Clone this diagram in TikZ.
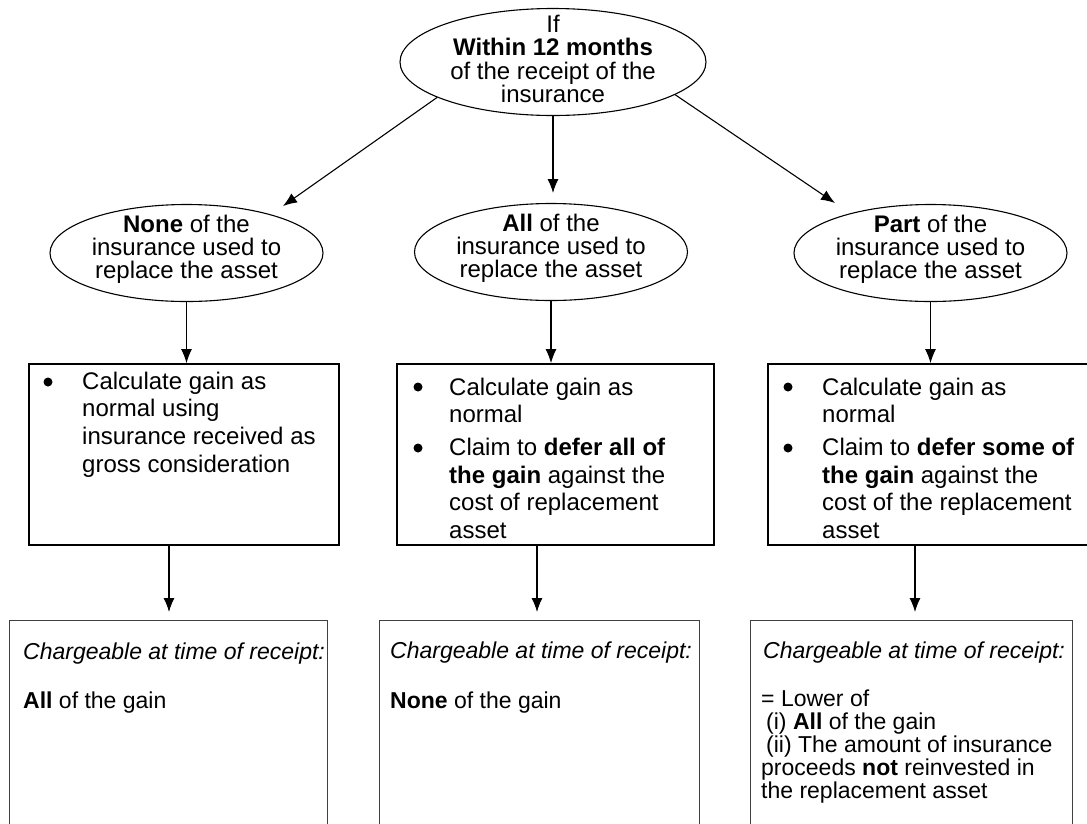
\documentclass[tikz,border=0pt]{standalone}
\usepackage{fontspec}
\setmainfont{Liberation Sans}
\usetikzlibrary{shapes.geometric,arrows.meta}
\begin{document}
\begin{tikzpicture}[x=1pt,y=-1pt,
  ellshape/.style={draw,line width=1.1pt,ellipse,inner sep=0pt},
  etext/.style={anchor=north,inner sep=0pt,align=center,font=\fontsize{24}{23.5}\selectfont},
  boxA/.style={draw,line width=1.8pt,rectangle,inner sep=0pt},
  boxB/.style={draw=black!75,line width=1pt,rectangle,inner sep=0pt},
  arr/.style={line width=1.1pt,-{Latex[length=14pt,width=11pt]}},
  ln/.style={anchor=base west,inner sep=0pt,font=\fontsize{24}{27}\selectfont},
  lnb/.style={anchor=base west,inner sep=0pt,font=\fontsize{23}{23}\selectfont},
  bul/.style={circle,fill,inner sep=0pt,minimum size=9pt},
]
\useasboundingbox (0,0) rectangle (1087,823);

% top ellipse
\node[ellshape,minimum width=306pt,minimum height=107pt] (top) at (553,62) {};
\node[etext] (toptext) at (553,14.5) {If\\\textbf{Within 12 months}\\of the receipt of the\\insurance};

% second row ellipses
\node[ellshape,minimum width=273pt,minimum height=97pt] (none) at (186.5,253) {};
\node[etext,font=\fontsize{24}{23}\selectfont] (nonetext) at (186.5,214.5) {\textbf{None} of the\\insurance used to\\replace the asset};
\node[ellshape,minimum width=273pt,minimum height=97pt] (all) at (551,252) {};
\node[etext,font=\fontsize{24}{23}\selectfont] (alltext) at (551,213.5) {\textbf{All} of the\\insurance used to\\replace the asset};
\node[ellshape,minimum width=273pt,minimum height=97pt] (part) at (930.5,253) {};
\node[etext,font=\fontsize{24}{23}\selectfont] (parttext) at (930.5,214.5) {\textbf{Part} of the\\insurance used to\\replace the asset};

% arrows row 1 -> row 2
\coordinate (e2l) at (283,206);
\coordinate (e2m) at (553,193);
\coordinate (e2r) at (835,203);
\draw[arr] (top.197) -- (e2l);
\draw[arr] (top.south) -- (e2m);
\draw[arr] (top.345) -- (e2r);

% third row boxes
\node[boxA,minimum width=310pt,minimum height=181pt] (b3l) at (184,454.5) {};
\node[boxA,minimum width=317pt,minimum height=181pt] (b3m) at (555.5,454.5) {};
\node[boxA,minimum width=340pt,minimum height=181pt] (b3r) at (938,454.5) {};

% arrows row 2 -> row 3
\draw[arr] (none.south) -- (none.south |- b3l.north);
\draw[arr] (all.south) -- (all.south |- b3m.north);
\draw[arr] (part.south) -- (part.south |- b3r.north);

% left box text
\node[bul] (bl1) at (48,382) {};
\node[ln] (l1) at (82,389) {Calculate gain as};
\node[ln] (l2) at (82,416.7) {normal using};
\node[ln] (l3) at (82,444.4) {insurance received as};
\node[ln] (l4) at (82,472) {gross consideration};

% middle box text
\node[bul] (bm1) at (418,387) {};
\node[ln] (m1) at (449,395) {Calculate gain as};
\node[ln] (m2) at (449,422) {normal};
\node[bul] (bm2) at (418,448) {};
\node[ln] (m3) at (449,455.5) {Claim to \textbf{defer all of}};
\node[ln] (m4) at (449,483) {\textbf{the gain} against the};
\node[ln] (m5) at (449,510.5) {cost of replacement};
\node[ln] (m6) at (449,538) {asset};

% right box text
\node[bul] (br1) at (788,387) {};
\node[ln] (r1) at (822,395) {Calculate gain as};
\node[ln] (r2) at (822,422) {normal};
\node[bul] (br2) at (788,448) {};
\node[ln] (r3) at (822,455.5) {Claim to \textbf{defer some of}};
\node[ln] (r4) at (822,483) {\textbf{the gain} against the};
\node[ln] (r5) at (822,510.5) {cost of the replacement};
\node[ln] (r6) at (822,538) {asset};

% fourth row boxes
\node[boxB,minimum width=318pt,minimum height=220pt] (b4l) at (168,730) {};
\node[boxB,minimum width=320pt,minimum height=220pt] (b4m) at (539,730) {};
\node[boxB,minimum width=322pt,minimum height=220pt] (b4r) at (911,730) {};

% arrows row 3 -> row 4
\coordinate (e4l) at (169,612);
\coordinate (e4m) at (537,612);
\coordinate (e4r) at (915,612);
\draw[arr] (e4l |- b3l.south) -- (e4l);
\draw[arr] (e4m |- b3m.south) -- (e4m);
\draw[arr] (e4r |- b3r.south) -- (e4r);

% fourth row text
\node[lnb] (p1) at (23,659) {\textit{Chargeable at time of receipt:}};
\node[lnb] (p2) at (23,708) {\textbf{All} of the gain};
\node[lnb] (q1) at (390,658) {\textit{Chargeable at time of receipt:}};
\node[lnb] (q2) at (390,708) {\textbf{None} of the gain};
\node[lnb] (s1) at (763,658) {\textit{Chargeable at time of receipt:}};
\node[lnb] (s2) at (761,706) {= Lower of};
\node[lnb] (s3) at (766,729) {(i) \textbf{All} of the gain};
\node[lnb] (s4) at (766,752) {(ii) The amount of insurance};
\node[lnb] (s5) at (761,775) {proceeds \textbf{not} reinvested in};
\node[lnb] (s6) at (761,798) {the replacement asset};
\end{tikzpicture}
\end{document}
